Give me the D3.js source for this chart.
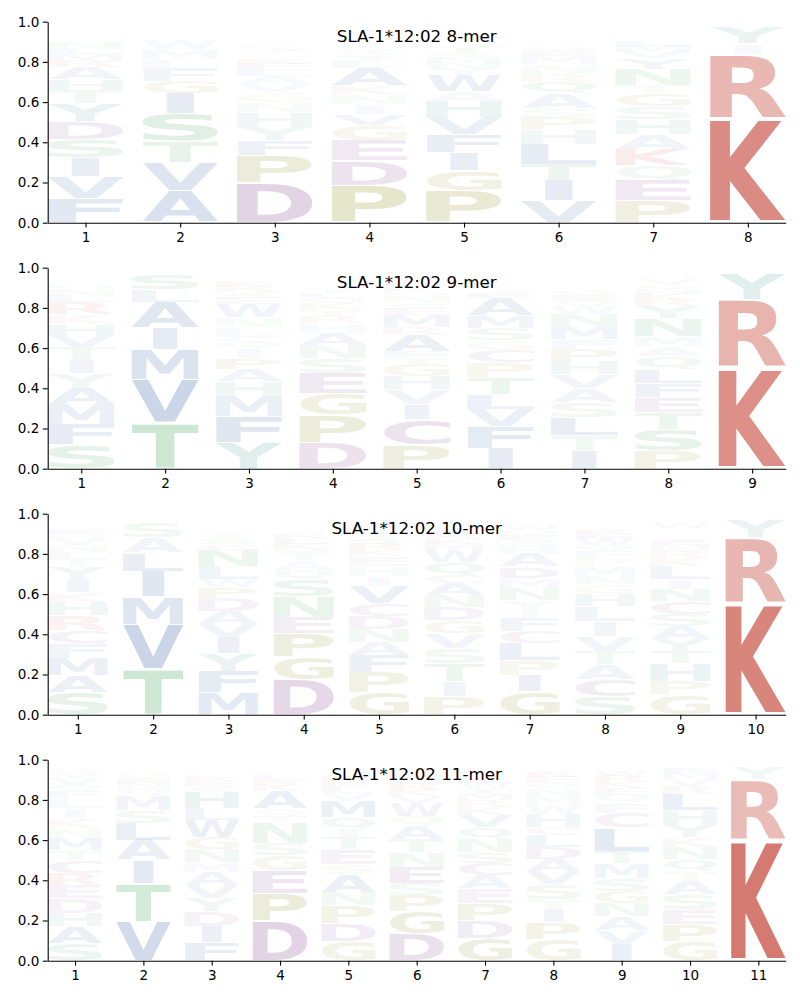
<!DOCTYPE html>
<html>
<head>
<meta charset="utf-8">
<script src="https://cdn.jsdelivr.net/npm/d3@7"></script>
<style>
  body { margin: 0; background: #fff; }
  svg text { font-family: "DejaVu Sans", sans-serif; }
</style>
</head>
<body>
<div id="chart"></div>
<script>
// panel titles
const titles = ["SLA-1*12:02 8-mer", "SLA-1*12:02 9-mer", "SLA-1*12:02 10-mer", "SLA-1*12:02 11-mer"];
const yTicks = [0, 0.2, 0.4, 0.6, 0.8, 1.0];

// each position: letters listed bottom -> top with their frequency
const mer8 = [
  [["F",.12],["V",.11],["I",.095],["S",.09],["D",.09],["Y",.09],["T",.065],["H",.055],["A",.06],["R",.03],["M",.035],["L",.025],["N",.03],["Q",.02],["E",.02],["K",.015],["G",.015],["W",.01],["C",.01]],
  [["A",.16],["V",.14],["T",.105],["S",.14],["I",.1],["G",.06],["F",.06],["L",.05],["M",.05],["W",.05],["N",.02],["Q",.015],["E",.015],["K",.01]],
  [["D",.195],["P",.14],["F",.075],["Y",.065],["H",.075],["N",.05],["G",.05],["V",.04],["A",.04],["L",.03],["E",.03],["R",.025],["K",.02],["Q",.02],["S",.025],["T",.02],["W",.02],["M",.02],["C",.015],["I",.02]],
  [["P",.185],["D",.125],["E",.1],["G",.075],["V",.055],["I",.05],["N",.05],["K",.04],["A",.09],["L",.035],["T",.03],["S",.025],["Q",.025],["H",.02],["R",.02],["M",.02],["W",.015],["Y",.015],["F",.01]],
  [["P",.16],["G",.1],["I",.09],["F",.09],["V",.085],["H",.08],["A",.05],["W",.08],["Y",.03],["N",.03],["M",.025],["S",.03],["T",.025],["E",.02],["L",.02],["Q",.015],["D",.015],["K",.01],["R",.01]],
  [["V",.11],["I",.1],["T",.08],["L",.1],["H",.075],["P",.06],["S",.045],["A",.075],["Q",.055],["R",.04],["N",.05],["M",.04],["E",.025],["G",.025],["Y",.02],["F",.02],["K",.02],["W",.015],["D",.015]],
  [["P",.11],["E",.1],["Q",.075],["K",.08],["A",.075],["H",.075],["S",.065],["G",.065],["T",.04],["N",.08],["Y",.055],["V",.03],["M",.03],["L",.025],["R",.02],["I",.02],["F",.015],["W",.015],["D",.015]],
  [["K",.52],["R",.32],["I",.05],["Y",.08],["H",.015],["Q",.01]]
];

const mer9 = [
  [["S",.12],["F",.1],["M",.1],["A",.08],["Y",.075],["I",.065],["T",.065],["V",.06],["H",.055],["K",.05],["R",.06],["L",.03],["N",.03],["Q",.025],["E",.02],["G",.02],["D",.015],["W",.015],["C",.015]],
  [["T",.225],["V",.22],["M",.15],["I",.105],["A",.13],["L",.06],["S",.08],["N",.01],["Q",.01],["C",.01]],
  [["Y",.13],["F",.13],["M",.1],["H",.075],["A",.06],["P",.055],["I",.05],["Q",.03],["C",.025],["L",.05],["N",.05],["W",.065],["E",.03],["S",.03],["R",.03],["K",.025],["G",.02],["D",.02],["T",.015]],
  [["D",.13],["P",.14],["G",.105],["E",.1],["S",.075],["N",.065],["A",.06],["H",.05],["R",.035],["T",.03],["K",.03],["Q",.03],["L",.025],["Y",.025],["M",.02],["V",.02],["I",.02],["F",.015],["W",.015],["C",.01]],
  [["P",.12],["C",.125],["I",.075],["V",.075],["H",.065],["G",.06],["T",.03],["F",.035],["A",.08],["R",.04],["M",.06],["E",.03],["S",.03],["N",.03],["Q",.025],["K",.025],["L",.025],["Y",.02],["W",.02],["D",.015]],
  [["I",.1],["F",.11],["V",.085],["L",.075],["T",.085],["P",.075],["C",.06],["G",.05],["S",.06],["M",.06],["A",.09],["E",.025],["N",.02],["Q",.02],["K",.015],["R",.015],["H",.015],["W",.01]],
  [["I",.09],["T",.075],["L",.09],["S",.075],["A",.07],["V",.07],["H",.065],["P",.06],["F",.05],["M",.065],["N",.06],["W",.04],["Q",.03],["E",.025],["G",.025],["Y",.02],["R",.02],["K",.015],["C",.015],["D",.015]],
  [["P",.09],["S",.105],["T",.085],["E",.075],["F",.07],["L",.07],["Q",.065],["A",.05],["M",.05],["N",.09],["Y",.06],["R",.03],["K",.03],["H",.025],["G",.025],["V",.025],["I",.02],["D",.015],["W",.015]],
  [["K",.5],["R",.34],["Y",.13],["L",.015],["F",.01]]
];

const mer10 = [
  [["S",.11],["A",.085],["M",.085],["F",.075],["C",.065],["R",.075],["H",.065],["K",.05],["I",.065],["Y",.06],["T",.04],["L",.035],["N",.035],["V",.03],["Q",.025],["E",.025],["G",.02],["D",.02],["P",.015],["W",.015]],
  [["T",.225],["V",.225],["M",.135],["I",.13],["L",.09],["A",.075],["S",.075],["N",.015],["Q",.01],["C",.01]],
  [["M",.11],["F",.105],["Y",.09],["I",.08],["V",.065],["A",.065],["D",.065],["P",.055],["W",.04],["L",.065],["N",.08],["C",.03],["S",.03],["T",.025],["Q",.02],["E",.02],["H",.02],["G",.015]],
  [["D",.175],["G",.115],["P",.115],["E",.08],["N",.1],["S",.085],["Q",.05],["A",.05],["T",.05],["K",.03],["L",.025],["R",.025],["H",.02],["M",.02],["V",.02],["Y",.015],["W",.01]],
  [["G",.11],["P",.1],["F",.085],["A",.065],["N",.065],["D",.065],["C",.065],["V",.085],["I",.05],["H",.05],["E",.05],["K",.03],["R",.03],["S",.03],["T",.03],["Q",.025],["Y",.025],["M",.02],["L",.015]],
  [["P",.09],["I",.075],["T",.09],["S",.075],["V",.075],["G",.065],["D",.065],["N",.06],["A",.06],["C",.04],["Q",.065],["W",.06],["M",.03],["K",.025],["R",.025],["E",.025],["H",.02],["L",.015],["Y",.015]],
  [["G",.115],["I",.08],["P",.075],["L",.085],["C",.06],["F",.065],["T",.04],["Y",.05],["N",.06],["M",.05],["D",.055],["A",.065],["H",.04],["S",.03],["E",.025],["Q",.025],["W",.025],["R",.02],["K",.015]],
  [["S",.09],["C",.085],["A",.075],["T",.065],["V",.075],["I",.075],["L",.075],["H",.06],["G",.05],["N",.04],["M",.05],["P",.04],["F",.035],["Q",.03],["W",.03],["E",.025],["R",.025],["K",.02],["D",.015],["Y",.015]],
  [["G",.1],["P",.065],["H",.09],["T",.06],["Y",.06],["A",.065],["S",.06],["C",.065],["N",.06],["I",.05],["L",.065],["K",.04],["R",.04],["M",.025],["E",.025],["Q",.02],["V",.02],["D",.02],["W",.025],["F",.02]],
  [["K",.55],["R",.33],["Y",.09],["H",.01],["F",.01]]
];

const mer11 = [
  [["S",.085],["A",.085],["H",.065],["D",.075],["E",.065],["R",.06],["C",.065],["T",.05],["M",.06],["N",.05],["K",.05],["I",.05],["L",.05],["F",.035],["Q",.03],["V",.03],["Y",.025],["G",.025],["W",.02],["P",.02]],
  [["V",.195],["T",.19],["I",.115],["A",.1],["L",.085],["S",.065],["M",.075],["Q",.03],["N",.03],["E",.025],["G",.025],["K",.02],["R",.015],["F",.015]],
  [["F",.09],["I",.08],["D",.075],["Y",.065],["V",.065],["A",.065],["M",.05],["N",.065],["G",.06],["W",.085],["L",.06],["H",.08],["S",.03],["E",.025],["R",.025],["C",.02],["K",.02],["T",.02],["Q",.015]],
  [["D",.195],["P",.14],["E",.115],["G",.075],["S",.06],["N",.1],["T",.035],["Q",.035],["A",.09],["K",.03],["R",.025],["L",.025],["H",.02],["M",.015],["V",.015],["Y",.01]],
  [["G",.095],["D",.09],["P",.09],["N",.065],["A",.09],["S",.05],["E",.075],["T",.06],["I",.04],["Q",.06],["M",.08],["V",.04],["L",.03],["K",.03],["R",.025],["H",.02],["W",.02],["F",.015],["Y",.015]],
  [["D",.135],["G",.11],["P",.08],["S",.06],["E",.08],["N",.075],["T",.065],["A",.065],["Q",.05],["W",.065],["V",.035],["K",.03],["R",.03],["H",.025],["M",.025],["Y",.02],["L",.02],["C",.015]],
  [["G",.11],["D",.09],["P",.085],["E",.075],["A",.065],["C",.06],["S",.055],["N",.065],["Q",.06],["V",.06],["K",.04],["R",.035],["M",.03],["T",.03],["W",.025],["L",.025],["H",.02],["Y",.02],["F",.015],["I",.02]],
  [["G",.105],["P",.085],["I",.065],["T",.05],["S",.075],["V",.065],["A",.06],["D",.06],["L",.06],["C",.04],["H",.065],["W",.05],["M",.04],["N",.035],["Q",.03],["E",.03],["R",.025],["K",.02],["F",.02]],
  [["I",.08],["V",.07],["A",.07],["N",.065],["G",.06],["S",.065],["M",.075],["T",.06],["L",.115],["C",.075],["F",.05],["Q",.04],["E",.035],["K",.03],["R",.03],["W",.025],["H",.02],["D",.015],["P",.015]],
  [["G",.095],["P",.085],["E",.075],["S",.075],["A",.065],["T",.05],["Q",.06],["N",.06],["K",.05],["Y",.06],["H",.075],["L",.08],["R",.04],["V",.035],["M",.03],["F",.025],["W",.02],["D",.015]],
  [["K",.6],["R",.3],["Y",.06],["H",.015],["Q",.01]]
];

const panels = [mer8, mer9, mer10, mer11];

// residue colours by chemistry group
const colorOf = {};
"AVLIMFW".split("").forEach(c => colorOf[c] = "#2c5aa0");
"HY".split("").forEach(c => colorOf[c] = "#2a8a80");
"PG".split("").forEach(c => colorOf[c] = "#858510");
"DEC".split("").forEach(c => colorOf[c] = "#7a3a8a");
"STNQ".split("").forEach(c => colorOf[c] = "#3aa050");
"KR".split("").forEach(c => colorOf[c] = "#c0392b");

const W = 800, H = 1000;
const left = 47.7, right = 785.7;
const panelTop = 21.7, panelH = 201, panelStep = 246;
const vpad = 0.05;

const svg = d3.select("#chart").append("svg")
  .attr("width", W).attr("height", H);

// measure glyph ink boxes so letters can be stretched to their cells
const ctx = document.createElement("canvas").getContext("2d");
ctx.font = "bold 100px 'DejaVu Sans'";
const metricCache = {};
function glyph(ch) {
  if (!metricCache[ch]) {
    const m = ctx.measureText(ch);
    metricCache[ch] = {
      l: m.actualBoundingBoxLeft, r: m.actualBoundingBoxRight,
      a: m.actualBoundingBoxAscent, d: m.actualBoundingBoxDescent
    };
  }
  return metricCache[ch];
}
const mE = glyph("E");
const widthE = mE.l + mE.r;

panels.forEach((data, pi) => {
  const n = data.length;
  const top = panelTop + pi * panelStep;
  const x = d3.scaleLinear().domain([0.6, n + 0.4]).range([left, right]);
  const y = d3.scaleLinear().domain([0, 1]).range([top + panelH, top]);

  const g = svg.append("g");

  // stack letters per position
  data.forEach((stack, i) => {
    const pos = i + 1;
    const x0 = x(pos - 0.4), x1 = x(pos + 0.4);
    const w = x1 - x0, cx = (x0 + x1) / 2;
    let base = 0;
    stack.forEach(([ch, f]) => {
      const lo = base + f * vpad / 2, hi = base + f - f * vpad / 2;
      base += f;
      const yTop = y(hi), h = y(lo) - y(hi);
      const m = glyph(ch);
      const gw = m.l + m.r, gh = m.a + m.d;
      const sx = Math.min(w / gw, w / widthE);
      const sy = h / gh;
      g.append("text")
        .attr("x", 0).attr("y", 0)
        .attr("font-size", 100)
        .attr("font-weight", "bold")
        .attr("fill", colorOf[ch])
        .attr("fill-opacity", Math.min(1, f * 1.12))
        .attr("transform", `translate(${cx},${yTop}) scale(${sx},${sy}) translate(${-(m.r - m.l) / 2},${m.a})`)
        .text(ch);
    });
  });

  // axes (left and bottom spines only)
  const ay = g.append("g")
    .attr("transform", `translate(${left},0)`)
    .call(d3.axisLeft(y).tickValues(yTicks).tickFormat(d3.format(".1f"))
      .tickSize(4.9).tickPadding(3.5).tickSizeOuter(0));
  const ax = g.append("g")
    .attr("transform", `translate(0,${top + panelH})`)
    .call(d3.axisBottom(x).tickValues(d3.range(1, n + 1)).tickFormat(d3.format("d"))
      .tickSize(4.9).tickPadding(4.4).tickSizeOuter(0));
  [ax, ay].forEach(a => {
    a.selectAll("text").attr("font-size", 13.5).attr("fill", "#000")
      .style("font-family", "'DejaVu Sans', sans-serif");
    a.selectAll("line").attr("stroke", "#000").attr("stroke-width", 1.1);
    a.select(".domain").attr("stroke", "#000").attr("stroke-width", 1.1);
  });

  g.append("text")
    .attr("x", (left + right) / 2)
    .attr("y", top + panelH * 0.1)
    .attr("text-anchor", "middle")
    .attr("font-size", 16.7)
    .attr("fill", "#000")
    .text(titles[pi]);
});
</script>
</body>
</html>
